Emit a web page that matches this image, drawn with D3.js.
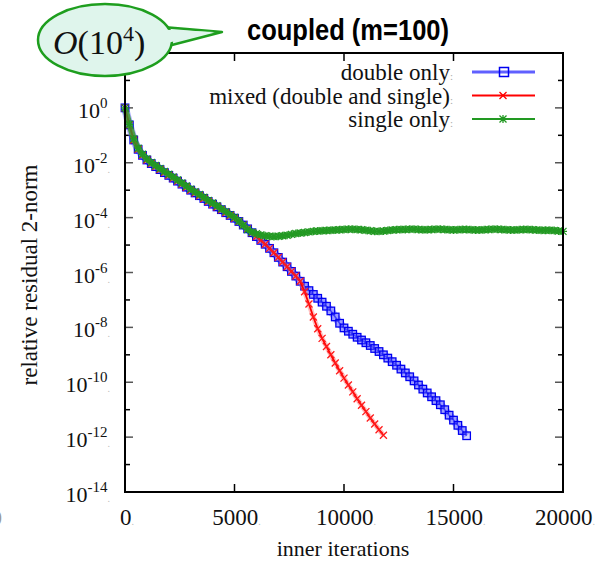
<!DOCTYPE html>
<html>
<head>
<meta charset="utf-8">
<script src="https://cdn.jsdelivr.net/npm/d3@7"></script>
<style>
  body { margin: 0; background: #fff; }
  svg { display: block; }
</style>
</head>
<body>
<div id="chart"></div>
<script>
// sampled inner iterations (every 200)
const iters = [0,200,400,600,800,1000,1200,1400,1600,1800,2000,2200,2400,2600,2800,3000,3200,3400,3600,3800,
  4000,4200,4400,4600,4800,5000,5200,5400,5600,5800,6000,6200,6400,6600,6800,7000,7200,7400,7600,7800,
  8000,8200,8400,8600,8800,9000,9200,9400,9600,9800,10000,10200,10400,10600,10800,11000,11200,11400,11600,11800,
  12000,12200,12400,12600,12800,13000,13200,13400,13600,13800,14000,14200,14400,14600,14800,15000,15200,15400,15600,15800,
  16000,16200,16400,16600,16800,17000,17200,17400,17600,17800,18000,18200,18400,18600,18800,19000,19200,19400,19600,19800,20000];

// log10 of relative residual
const doubleOnly = [0,-0.62,-1.17,-1.51,-1.73,-1.9,-2.03,-2.14,-2.25,-2.36,-2.46,-2.56,-2.67,-2.78,-2.89,-3.0,-3.1,-3.2,-3.3,-3.41,
  -3.51,-3.61,-3.71,-3.82,-3.92,-4.02,-4.14,-4.27,-4.41,-4.55,-4.69,-4.83,-4.97,-5.12,-5.28,-5.45,-5.62,-5.79,-5.96,-6.13,
  -6.32,-6.5,-6.66,-6.8,-6.94,-7.08,-7.23,-7.4,-7.62,-7.85,-8.02,-8.14,-8.25,-8.36,-8.46,-8.56,-8.66,-8.77,-8.88,-9.0,
  -9.12,-9.25,-9.38,-9.52,-9.66,-9.8,-9.95,-10.1,-10.25,-10.39,-10.53,-10.67,-10.82,-11.0,-11.2,-11.38,-11.57,-11.76,-11.95];

const mixed = [0,-0.62,-1.17,-1.51,-1.73,-1.9,-2.03,-2.14,-2.25,-2.36,-2.46,-2.56,-2.67,-2.78,-2.89,-3.0,-3.1,-3.2,-3.3,-3.41,
  -3.51,-3.61,-3.71,-3.82,-3.92,-4.02,-4.14,-4.27,-4.41,-4.55,-4.69,-4.83,-4.97,-5.12,-5.28,-5.45,-5.62,-5.79,-5.96,-6.13,
  -6.32,-6.7,-7.15,-7.62,-8.05,-8.4,-8.7,-9.0,-9.3,-9.58,-9.85,-10.1,-10.35,-10.6,-10.84,-11.07,-11.3,-11.52,-11.73,-11.93];

const singleOnly = [0,-0.6,-1.13,-1.47,-1.69,-1.86,-1.99,-2.1,-2.21,-2.32,-2.42,-2.52,-2.63,-2.74,-2.85,-2.96,-3.06,-3.16,-3.26,-3.37,
  -3.47,-3.57,-3.68,-3.78,-3.89,-3.99,-4.13,-4.28,-4.43,-4.53,-4.59,-4.63,-4.66,-4.68,-4.69,-4.68,-4.66,-4.64,-4.61,-4.58,
  -4.56,-4.54,-4.52,-4.5,-4.49,-4.48,-4.47,-4.46,-4.45,-4.44,-4.43,-4.42,-4.42,-4.43,-4.44,-4.46,-4.48,-4.5,-4.5,-4.49,
  -4.47,-4.45,-4.44,-4.43,-4.43,-4.42,-4.42,-4.43,-4.44,-4.44,-4.43,-4.42,-4.42,-4.43,-4.44,-4.45,-4.44,-4.43,-4.43,-4.44,
  -4.45,-4.45,-4.44,-4.43,-4.42,-4.42,-4.43,-4.44,-4.45,-4.45,-4.44,-4.43,-4.43,-4.44,-4.45,-4.46,-4.46,-4.46,-4.47,-4.49,-4.5];

const seriesNames = ['double only', 'mixed (double and single)', 'single only'];
const xTicks = [0, 5000, 10000, 15000, 20000];
const yLabelExps = [0, -2, -4, -6, -8, -10, -12, -14];
const yDecades = [2,1,0,-1,-2,-3,-4,-5,-6,-7,-8,-9,-10,-11,-12,-13,-14];

const width = 613, height = 566;
const mLeft = 125, mRight = 563, mTop = 53, mBottom = 492;
const serif = '"Liberation Serif", "Times New Roman", serif';

const svg = d3.select('#chart').append('svg')
  .attr('width', width).attr('height', height);

const x = d3.scaleLinear().domain([0, 20000]).range([mLeft, mRight]);
const y = d3.scaleLog().domain([1e-14, 1e2]).range([mBottom, mTop]);

// ticks (inward, mirrored)
const tk = svg.append('g');
yDecades.forEach(e => {
  const major = e % 2 === 0;
  const len = major ? 8 : 5;
  const yy = y(Math.pow(10, e));
  tk.append('line').attr('x1', mLeft).attr('x2', mLeft + len).attr('y1', yy).attr('y2', yy)
    .attr('stroke', major ? '#555' : '#000').attr('stroke-width', 1.5);
  tk.append('line').attr('x1', mRight).attr('x2', mRight - len).attr('y1', yy).attr('y2', yy)
    .attr('stroke', major ? '#555' : '#000').attr('stroke-width', 1.5);
});
xTicks.slice(1, -1).forEach(v => {
  tk.append('line').attr('x1', x(v)).attr('x2', x(v)).attr('y1', mBottom).attr('y2', mBottom - 8)
    .attr('stroke', '#000').attr('stroke-width', 1.5);
  tk.append('line').attr('x1', x(v)).attr('x2', x(v)).attr('y1', mTop).attr('y2', mTop + 8)
    .attr('stroke', '#000').attr('stroke-width', 1.5);
});

// tick labels
yLabelExps.forEach(e => {
  const t = svg.append('text')
    .attr('x', 110).attr('y', y(Math.pow(10, e)) + 10)
    .attr('text-anchor', 'end')
    .style('font-family', serif).style('font-size', '22px').attr('fill', '#111');
  t.append('tspan').text('10');
  t.append('tspan').attr('dy', -10).style('font-size', '15px').text(e === 0 ? '0' : '-' + Math.abs(e));
  t.append('tspan').attr('dy', 10).style('font-size', '10px').attr('fill', '#bbb').text('.');
});
xTicks.forEach(v => {
  const t = svg.append('text')
    .attr('x', x(v) + 2).attr('y', 525)
    .attr('text-anchor', 'middle')
    .style('font-family', serif).style('font-size', '23px').attr('fill', '#111');
  t.append('tspan').text(v);
  t.append('tspan').style('font-size', '10px').attr('fill', '#bbb').text('.');
});

// axis titles
svg.append('text')
  .attr('x', 343).attr('y', 556).attr('text-anchor', 'middle')
  .style('font-family', serif).style('font-size', '22px').attr('fill', '#111')
  .text('inner iterations');
svg.append('text')
  .attr('transform', 'translate(37,275) rotate(-90)').attr('text-anchor', 'middle')
  .style('font-family', serif).style('font-size', '23px').attr('fill', '#111')
  .text('relative residual 2-norm');

// series
const line = d3.line().x(d => x(d[0])).y(d => y(Math.pow(10, d[1])));
const pts = vals => vals.map((v, i) => [iters[i], v]);

const plot = svg.append('g');

function squares(g, data, color) {
  g.selectAll(null).data(data).enter().append('rect')
    .attr('x', d => x(d[0]) - 3.75).attr('y', d => y(Math.pow(10, d[1])) - 3.75)
    .attr('width', 7.5).attr('height', 7.5)
    .attr('fill', 'rgba(110,110,255,0.3)').attr('stroke', color).attr('stroke-width', 1.3);
}
function crosses(g, data, color, star) {
  const s = 3.5;
  g.selectAll(null).data(data).enter().append('path')
    .attr('d', d => {
      const cx = x(d[0]), cy = y(Math.pow(10, d[1]));
      let p = `M${cx - s},${cy - s}L${cx + s},${cy + s}M${cx - s},${cy + s}L${cx + s},${cy - s}`;
      if (star) p += `M${cx},${cy - s - 0.5}L${cx},${cy + s + 0.5}M${cx - s - 0.5},${cy}L${cx + s + 0.5},${cy}`;
      return p;
    })
    .attr('fill', 'none').attr('stroke', color).attr('stroke-width', 1.3);
}

const blueData = pts(doubleOnly), redData = pts(mixed), greenData = pts(singleOnly);

// dense-marker envelope under each series
plot.append('path').attr('d', line(blueData)).attr('fill', 'none')
  .attr('stroke', '#7070ff').attr('stroke-width', 8).attr('stroke-linejoin', 'round').attr('opacity', 0.55);
plot.append('path').attr('d', line(blueData)).attr('fill', 'none')
  .attr('stroke', '#3030ff').attr('stroke-width', 1.5);
squares(plot.append('g'), blueData, '#0000f0');

plot.append('path').attr('d', line(redData)).attr('fill', 'none')
  .attr('stroke', '#ff7070').attr('stroke-width', 5).attr('stroke-linejoin', 'round').attr('opacity', 0.45);
plot.append('path').attr('d', line(redData)).attr('fill', 'none')
  .attr('stroke', '#ff0000').attr('stroke-width', 1.8);
crosses(plot.append('g'), redData, '#ff1a1a', false);

plot.append('path').attr('d', line(greenData)).attr('fill', 'none')
  .attr('stroke', '#2a9a2a').attr('stroke-width', 6).attr('stroke-linejoin', 'round').attr('opacity', 0.8);
crosses(plot.append('g'), greenData, '#229922', true);

// frame
svg.append('rect').attr('x', mLeft).attr('y', mTop)
  .attr('width', mRight - mLeft).attr('height', mBottom - mTop)
  .attr('fill', 'none').attr('stroke', '#000').attr('stroke-width', 2);

// legend
const legendRows = [72, 95.5, 119];
const legendColors = ['#6060ff', '#ff0000', '#229922'];
seriesNames.forEach((name, i) => {
  const ly = legendRows[i];
  const t = svg.append('text')
    .attr('x', 453).attr('y', ly + 8).attr('text-anchor', 'end')
    .style('font-family', serif).style('font-size', '23px').attr('fill', '#111');
  t.append('tspan').text(name);
  t.append('tspan').style('font-size', '11px').attr('fill', '#aaa').text(':');
  svg.append('line').attr('x1', 472).attr('x2', 535).attr('y1', ly).attr('y2', ly)
    .attr('stroke', legendColors[i]).attr('stroke-width', i === 0 ? 3 : 2);
  const g = svg.append('g');
  if (i === 0) {
    g.append('rect').attr('x', 499.5).attr('y', ly - 4.5).attr('width', 9).attr('height', 9)
      .attr('fill', 'none').attr('stroke', '#0000f0').attr('stroke-width', 1.5);
  } else {
    crosses(g, [[x.invert(503), Math.log10(y.invert(ly))]], legendColors[i], i === 2);
  }
});

// title
svg.append('text')
  .attr('x', 348).attr('y', 40).attr('text-anchor', 'middle')
  .attr('textLength', 202).attr('lengthAdjust', 'spacingAndGlyphs')
  .style('font-family', '"Liberation Sans Narrow", "Liberation Sans", Arial, sans-serif')
  .style('font-size', '29px').style('font-weight', 'bold').attr('fill', '#000')
  .text('coupled (m=100)');

// speech bubble
const bubble = svg.append('g');
const bFill = '#dff5ec', bStroke = '#1e9e1e';
bubble.append('path').attr('d', 'M163,27 L222,32 L168,46 Z')
  .attr('fill', bFill).attr('stroke', bStroke).attr('stroke-width', 2.5).attr('stroke-linejoin', 'round');
bubble.append('ellipse').attr('cx', 105).attr('cy', 40).attr('rx', 67).attr('ry', 36)
  .attr('fill', bFill).attr('stroke', bStroke).attr('stroke-width', 2.5);
bubble.append('path').attr('d', 'M160,29.5 L214,32 L165,43.5 Z').attr('fill', bFill);
const bt = bubble.append('text').attr('x', 53).attr('y', 54)
  .style('font-family', serif).style('font-size', '34px').attr('fill', '#111');
bt.append('tspan').style('font-style', 'italic').text('O');
bt.append('tspan').text('(10');
bt.append('tspan').attr('dy', -13).style('font-size', '22px').text('4');
bt.append('tspan').attr('dy', 13).text(')');

// clipped fragment at left edge
svg.append('text').attr('x', -9).attr('y', 525)
  .style('font-family', serif).style('font-size', '22px').attr('fill', '#999').text('0');
</script>
</body>
</html>
